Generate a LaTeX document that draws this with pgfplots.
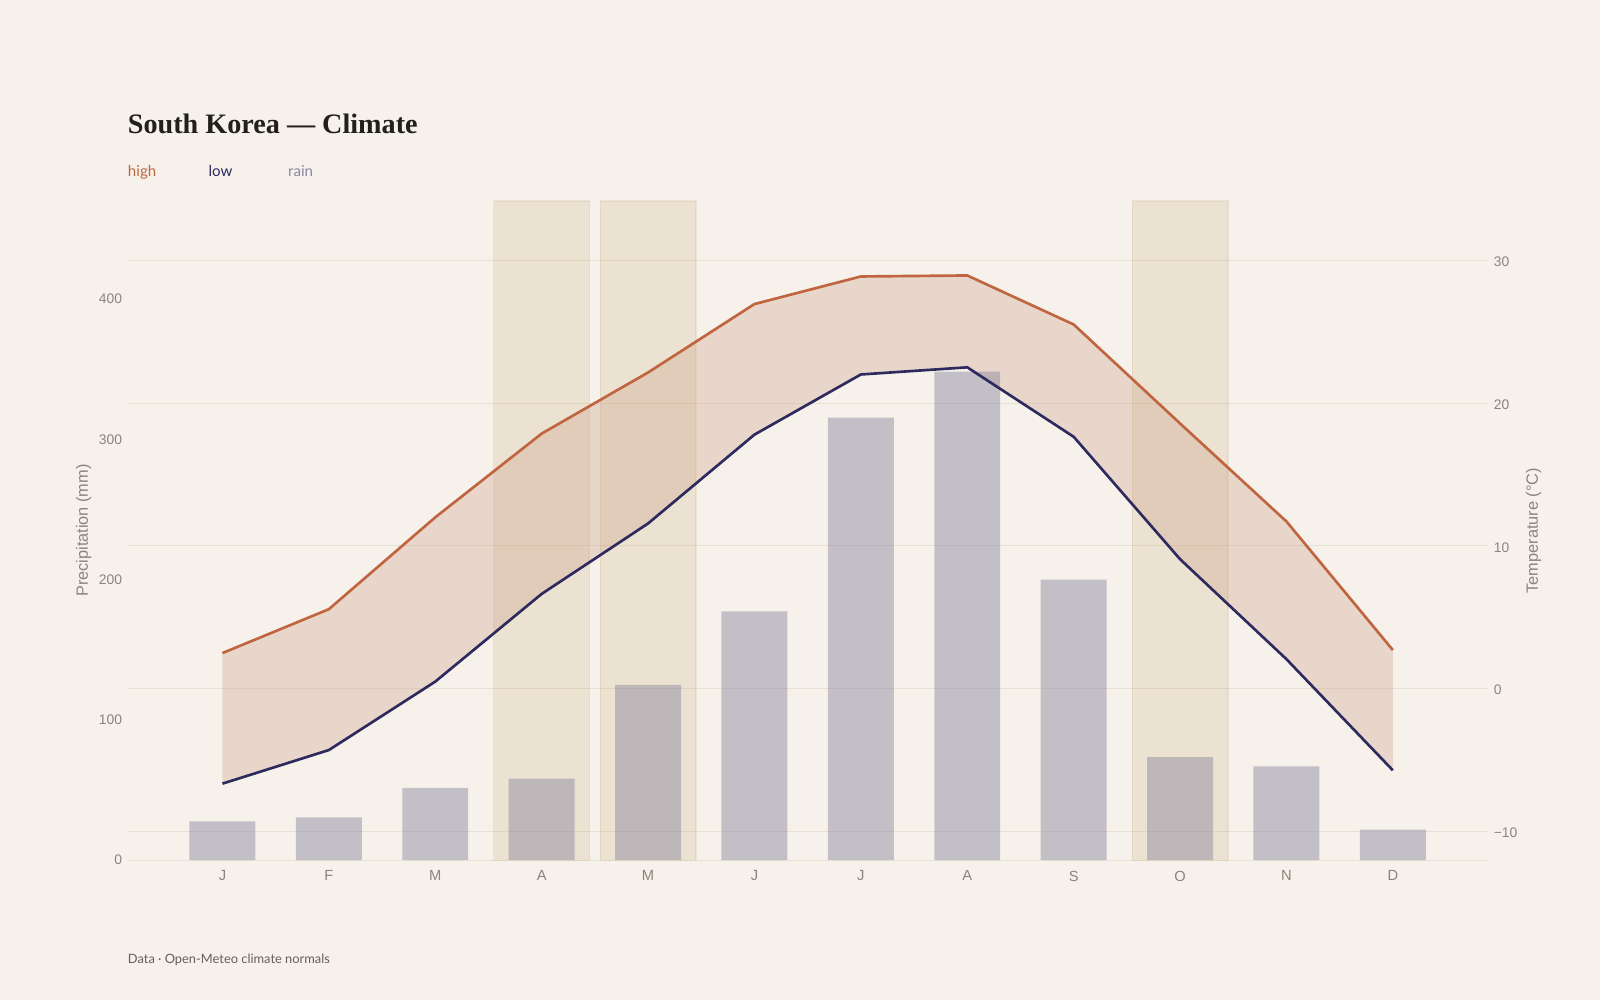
\documentclass[border=0pt]{standalone}
\usepackage{pgfplots}
\pgfplotsset{compat=1.18}
\usepgfplotslibrary{fillbetween}
\usepackage{fontspec}
\setmainfont{Liberation Sans}
\newfontfamily\titlefont{Liberation Serif}
\newfontfamily\legfont{Lato}
\definecolor{bg}{RGB}{246,242,235}
\definecolor{hi}{RGB}{192,101,64}
\definecolor{hifill}{RGB}{194,134,111}
\definecolor{lo}{RGB}{46,42,94}
\definecolor{rain}{RGB}{133,131,157}
\definecolor{rainleg}{RGB}{138,136,168}
\definecolor{band}{RGB}{200,170,120}
\definecolor{gridc}{RGB}{231,225,212}
\definecolor{tickc}{RGB}{138,133,124}
\definecolor{capc}{RGB}{100,96,90}
\definecolor{titlec}{RGB}{35,32,28}
\pagecolor{bg}

\pgfplotstableread{
x rain high low
0 27.6 2.5 -6.64
1 30.5 5.57 -4.29
2 51.6 12.0 0.5
3 58.2 17.86 6.64
4 125.0 22.14 11.57
5 177.5 26.93 17.79
6 315.6 28.86 22.0
7 348.4 28.93 22.5
8 200.0 25.5 17.64
9 73.5 18.57 9.07
10 66.9 11.71 2.07
11 21.8 2.71 -5.71
}\climate

\pgfplotstableread{
x band
3 470
4 470
9 470
}\bands

\begin{document}
\begin{tikzpicture}[x=0.5pt,y=0.5pt]
\path (0,0) rectangle (1568,980);

\begin{axis}[
  at={(62.5pt,68.5pt)}, anchor=south west, scale only axis,
  width=666.5pt, height=323pt,
  xmin=-0.892, xmax=11.892, ymin=0, ymax=470,
  axis x line*=bottom, axis y line*=left,
  x axis line style={draw=gridc, line width=0.6pt, -},
  y axis line style={draw=none},
  major tick length=0pt,
  xtick={0,...,11},
  xticklabels={J,F,M,A,M,J,J,A,S,O,N,D},
  xticklabel style={font=\fontsize{7.2}{7.2}\selectfont, text=tickc, anchor=north, inner sep=0pt, yshift=-5pt},
  ytick={0,100,200,300,400},
  yticklabels={0,100,200,300,400},
  yticklabel style={font=\fontsize{6.8}{6.8}\selectfont, text=tickc, anchor=east, inner sep=0pt, xshift=-2.5pt},
  ylabel={Precipitation (mm)},
  every axis y label/.style={at={(axis description cs:-0.0323,0.5)}, rotate=90, anchor=center, font=\fontsize{8}{8}\selectfont, text=tickc},
  clip=false,
]
\addplot[ybar, bar width=0.9, bar shift=0pt, fill=band, fill opacity=0.22, draw=band, draw opacity=0.2, line width=0.6pt] table[x=x, y=band] {\bands};
\addplot[ybar, bar width=0.62, bar shift=0pt, fill=rain, fill opacity=0.45, draw=none] table[x=x, y=rain] {\climate};
\end{axis}

\begin{axis}[
  at={(62.5pt,68.5pt)}, anchor=south west, scale only axis,
  width=666.5pt, height=323pt,
  xmin=-0.892, xmax=11.892, ymin=-12, ymax=34.143,
  axis y line*=right, hide x axis,
  y axis line style={draw=none},
  major tick length=0pt,
  ytick={-10,0,10,20,30},
  yticklabels={−10,0,10,20,30},
  yticklabel style={font=\fontsize{6.8}{6.8}\selectfont, text=tickc, anchor=west, inner sep=0pt, xshift=2.75pt, yshift=-0.7pt},
  ymajorgrids, grid style={draw=gridc, line width=0.5pt},
  ylabel={Temperature (°C)},
  every axis y label/.style={at={(axis description cs:1.0338,0.5)}, rotate=90, anchor=center, font=\fontsize{8}{8}\selectfont, text=tickc},
]
\addplot[name path=H, draw=none] table[x=x, y=high] {\climate};
\addplot[name path=L, draw=none] table[x=x, y=low] {\climate};
\addplot[fill=hifill, fill opacity=0.25, draw=none, on layer=main] fill between[of=H and L];
\addplot[draw=hi, line width=1.3pt] table[x=x, y=high] {\climate};
\addplot[draw=lo, line width=1.3pt] table[x=x, y=low] {\climate};
\end{axis}

\node[anchor=base west, inner sep=0pt, font=\titlefont\bfseries\fontsize{13.8}{13.8}\selectfont, text=titlec] at (125,849) {South Korea — Climate};
\node[anchor=base west, inner sep=0pt, font=\legfont\fontsize{7.4}{7.4}\selectfont, text=hi] at (125,807.5) {high};
\node[anchor=base west, inner sep=0pt, font=\legfont\fontsize{7.4}{7.4}\selectfont, text=lo] at (204,807.5) {low};
\node[anchor=base west, inner sep=0pt, font=\legfont\fontsize{7.4}{7.4}\selectfont, text=rainleg] at (282,807.5) {rain};
\node[anchor=base west, inner sep=0pt, font=\legfont\fontsize{6.3}{6.3}\selectfont, text=capc] at (125,36) {Data · Open-Meteo climate normals};
\end{tikzpicture}
\end{document}
